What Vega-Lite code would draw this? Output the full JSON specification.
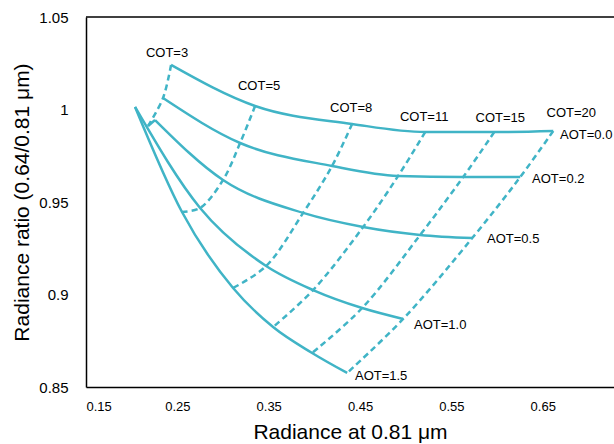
{
  "$schema": "https://vega.github.io/schema/vega-lite/v6.json",
  "autosize": "none",
  "padding": {"left": 86, "top": 17, "right": 0, "bottom": 57},
  "width": 528,
  "height": 370,
  "background": "white",
  "config": {
    "view": {"stroke": null},
    "font": "Liberation Sans",
    "axis": {"grid": false, "ticks": false, "domainColor": "#000000", "domainWidth": 1.5, "labelFont": "Liberation Sans", "labelColor": "#000000", "titleFont": "Liberation Sans", "titleFontSize": 21, "titleFontWeight": "normal", "titleColor": "#000000"}
  },
  "datasets": {
    "aot": [
      {"line": "AOT=0.0", "cot": 3, "x": 0.2431, "y": 1.0241},
      {"line": "AOT=0.0", "cot": 5, "x": 0.3351, "y": 1.0019},
      {"line": "AOT=0.0", "cot": 8, "x": 0.4413, "y": 0.9922},
      {"line": "AOT=0.0", "cot": 11, "x": 0.5213, "y": 0.9878},
      {"line": "AOT=0.0", "cot": 15, "x": 0.5969, "y": 0.9878},
      {"line": "AOT=0.0", "cot": 20, "x": 0.6615, "y": 0.9884},
      {"line": "AOT=0.2", "cot": 3, "x": 0.2343, "y": 1.0062},
      {"line": "AOT=0.2", "cot": 5, "x": 0.3187, "y": 0.9819},
      {"line": "AOT=0.2", "cot": 8, "x": 0.4194, "y": 0.9695},
      {"line": "AOT=0.2", "cot": 11, "x": 0.4917, "y": 0.9641},
      {"line": "AOT=0.2", "cot": 15, "x": 0.5629, "y": 0.9635},
      {"line": "AOT=0.2", "cot": 20, "x": 0.6254, "y": 0.9635},
      {"line": "AOT=0.5", "cot": 3, "x": 0.2256, "y": 0.9943},
      {"line": "AOT=0.5", "cot": 5, "x": 0.3000, "y": 0.9619},
      {"line": "AOT=0.5", "cot": 8, "x": 0.3877, "y": 0.9441},
      {"line": "AOT=0.5", "cot": 11, "x": 0.4534, "y": 0.9365},
      {"line": "AOT=0.5", "cot": 15, "x": 0.5158, "y": 0.9322},
      {"line": "AOT=0.5", "cot": 20, "x": 0.5728, "y": 0.9305},
      {"line": "AOT=1.0", "cot": 3, "x": 0.2037, "y": 1.0014},
      {"line": "AOT=1.0", "cot": 5, "x": 0.2749, "y": 0.9468},
      {"line": "AOT=1.0", "cot": 8, "x": 0.3472, "y": 0.9154},
      {"line": "AOT=1.0", "cot": 11, "x": 0.3986, "y": 0.9024},
      {"line": "AOT=1.0", "cot": 15, "x": 0.4523, "y": 0.8927},
      {"line": "AOT=1.0", "cot": 20, "x": 0.4972, "y": 0.8868},
      {"line": "AOT=1.5", "cot": 3, "x": 0.2037, "y": 1.0014},
      {"line": "AOT=1.5", "cot": 5, "x": 0.2551, "y": 0.9446},
      {"line": "AOT=1.5", "cot": 8, "x": 0.3110, "y": 0.9035},
      {"line": "AOT=1.5", "cot": 11, "x": 0.3548, "y": 0.8824},
      {"line": "AOT=1.5", "cot": 15, "x": 0.3975, "y": 0.8684},
      {"line": "AOT=1.5", "cot": 20, "x": 0.4359, "y": 0.8576}
    ],
    "hook": [
      {"line": "AOT=0.5 start", "x": 0.2179, "y": 0.9911},
      {"line": "AOT=0.5 start", "x": 0.2256, "y": 0.9943}
    ],
    "cot": [
      {"line": "COT=3", "i": 0, "x": 0.2431, "y": 1.0241},
      {"line": "COT=3", "i": 1, "x": 0.2343, "y": 1.0062},
      {"line": "COT=3", "i": 2, "x": 0.2179, "y": 0.9911},
      {"line": "COT=5", "i": 0, "x": 0.3351, "y": 1.0019},
      {"line": "COT=5", "i": 1, "x": 0.3187, "y": 0.9819},
      {"line": "COT=5", "i": 2, "x": 0.3000, "y": 0.9619},
      {"line": "COT=5", "i": 3, "x": 0.2749, "y": 0.9468},
      {"line": "COT=5", "i": 4, "x": 0.2551, "y": 0.9446},
      {"line": "COT=8", "i": 0, "x": 0.4413, "y": 0.9922},
      {"line": "COT=8", "i": 1, "x": 0.4194, "y": 0.9695},
      {"line": "COT=8", "i": 2, "x": 0.3877, "y": 0.9441},
      {"line": "COT=8", "i": 3, "x": 0.3472, "y": 0.9154},
      {"line": "COT=8", "i": 4, "x": 0.3110, "y": 0.9035},
      {"line": "COT=11", "i": 0, "x": 0.5213, "y": 0.9878},
      {"line": "COT=11", "i": 1, "x": 0.4917, "y": 0.9641},
      {"line": "COT=11", "i": 2, "x": 0.4534, "y": 0.9365},
      {"line": "COT=11", "i": 3, "x": 0.3986, "y": 0.9024},
      {"line": "COT=11", "i": 4, "x": 0.3548, "y": 0.8824},
      {"line": "COT=15", "i": 0, "x": 0.5969, "y": 0.9878},
      {"line": "COT=15", "i": 1, "x": 0.5629, "y": 0.9635},
      {"line": "COT=15", "i": 2, "x": 0.5158, "y": 0.9322},
      {"line": "COT=15", "i": 3, "x": 0.4523, "y": 0.8927},
      {"line": "COT=15", "i": 4, "x": 0.3975, "y": 0.8684},
      {"line": "COT=20", "i": 0, "x": 0.6615, "y": 0.9884},
      {"line": "COT=20", "i": 1, "x": 0.6254, "y": 0.9635},
      {"line": "COT=20", "i": 2, "x": 0.5728, "y": 0.9305},
      {"line": "COT=20", "i": 3, "x": 0.4972, "y": 0.8868},
      {"line": "COT=20", "i": 4, "x": 0.4359, "y": 0.8576}
    ],
    "labels": [
      {"label": "COT=3", "x": 0.2387, "y": 1.0305},
      {"label": "COT=5", "x": 0.3395, "y": 1.0127},
      {"label": "COT=8", "x": 0.4403, "y": 1.0008},
      {"label": "COT=11", "x": 0.5202, "y": 0.9959},
      {"label": "COT=15", "x": 0.6035, "y": 0.9954},
      {"label": "COT=20", "x": 0.6812, "y": 0.9981},
      {"label": "AOT=0.0", "x": 0.6976, "y": 0.9862},
      {"label": "AOT=0.2", "x": 0.6670, "y": 0.9624},
      {"label": "AOT=0.5", "x": 0.6177, "y": 0.9300},
      {"label": "AOT=1.0", "x": 0.5377, "y": 0.8835},
      {"label": "AOT=1.5", "x": 0.4731, "y": 0.8560}
    ]
  },
  "encoding": {
    "x": {"field": "x", "type": "quantitative", "scale": {"domain": [0.15, 0.728], "nice": false, "zero": false},
      "axis": {"title": "Radiance at 0.81 μm", "values": [0.15, 0.25, 0.35, 0.45, 0.55, 0.65], "format": ".2f", "labelFontSize": 13, "labelPadding": 13, "titlePadding": 8}},
    "y": {"field": "y", "type": "quantitative", "scale": {"domain": [0.85, 1.05], "nice": false, "zero": false},
      "axis": {"title": "Radiance ratio (0.64/0.81 μm)", "values": [0.85, 0.9, 0.95, 1, 1.05], "format": "~g", "labelFontSize": 15, "labelPadding": 18, "titlePadding": 6}}
  },
  "layer": [
    {
      "data": {"name": "aot"},
      "mark": {"type": "line", "interpolate": "monotone", "color": "#40B4C6", "strokeWidth": 2.5},
      "encoding": {"detail": {"field": "line"}}
    },
    {
      "data": {"name": "hook"},
      "mark": {"type": "line", "color": "#40B4C6", "strokeWidth": 2.5},
      "encoding": {"detail": {"field": "line"}}
    },
    {
      "data": {"name": "cot"},
      "mark": {"type": "line", "interpolate": "catmull-rom", "color": "#40B4C6", "strokeWidth": 2.5, "strokeDash": [6, 4]},
      "encoding": {"detail": {"field": "line"}, "order": {"field": "i"}}
    },
    {
      "data": {"name": "labels"},
      "mark": {"type": "text", "font": "Liberation Sans", "fontSize": 13, "color": "#000000", "align": "center", "baseline": "middle"},
      "encoding": {"text": {"field": "label"}}
    },
    {
      "data": {"values": [{"y": 1.05}]},
      "mark": {"type": "rule", "color": "#000000", "strokeWidth": 1.5},
      "encoding": {"x": null}
    }
  ]
}
